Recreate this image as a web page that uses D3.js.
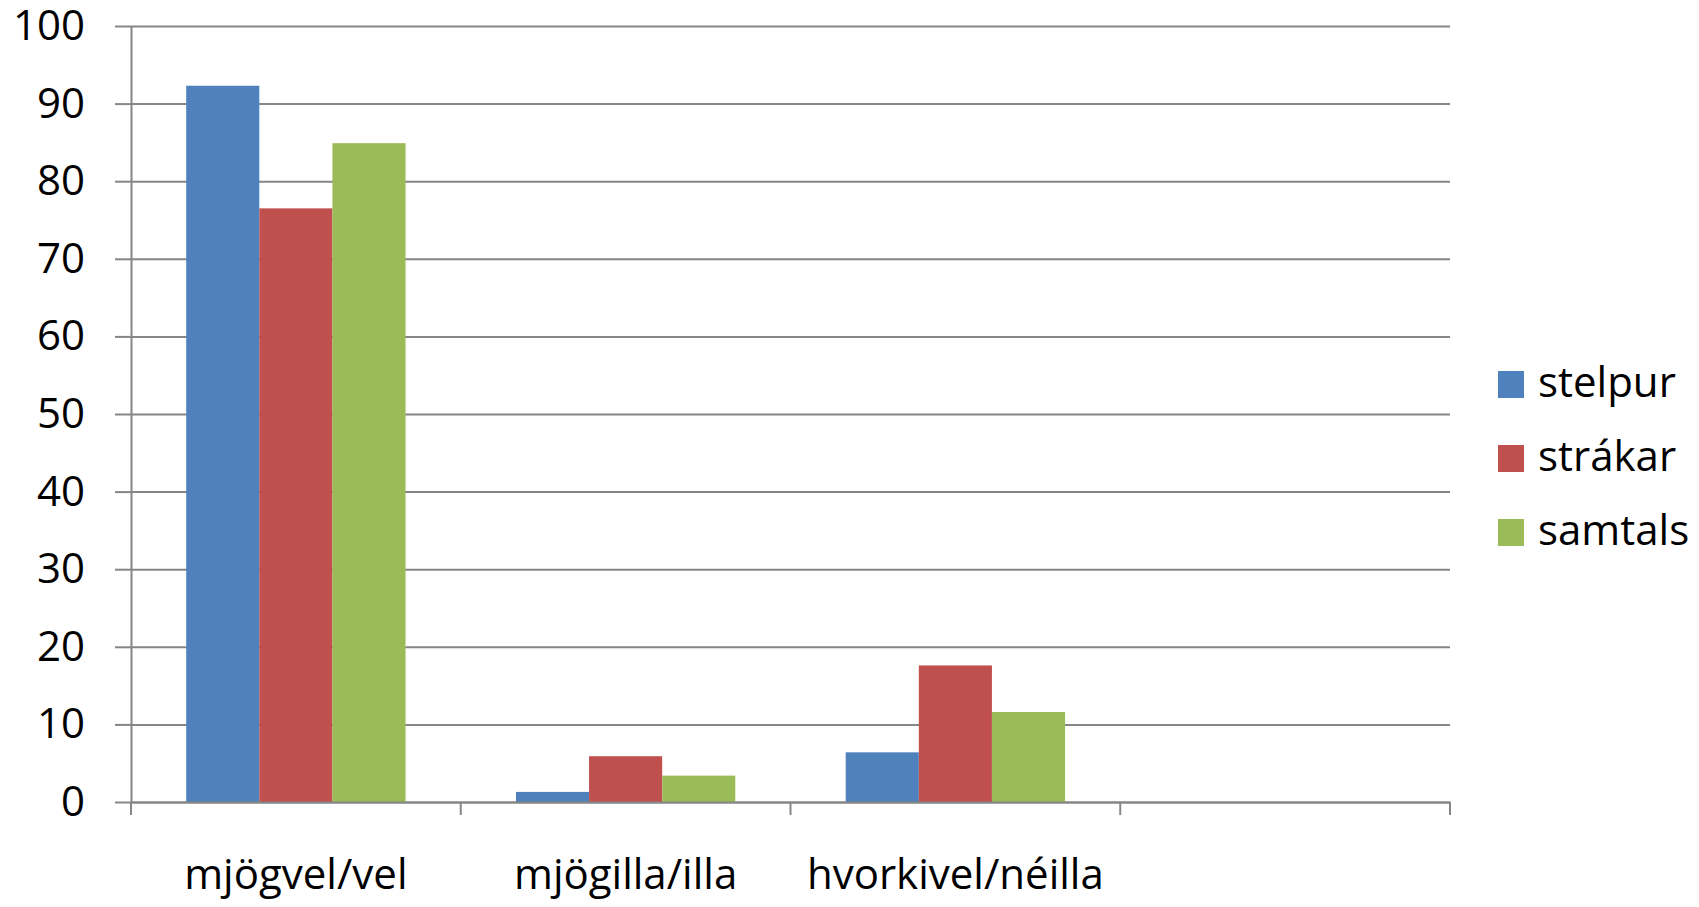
<!DOCTYPE html>
<html>
<head>
<meta charset="utf-8">
<script src="https://cdn.jsdelivr.net/npm/d3@7"></script>
<style>
  body { margin: 0; background: #fff; }
  svg text { font-family: "Open Sans", sans-serif; fill: #000; }
</style>
</head>
<body>
<div id="graphicContainer"></div>
<script>

var categories = ["mjögvel/vel", "mjögilla/illa", "hvorkivel/néilla", ""]
var seriesNames = ["stelpur", "strákar", "samtals"]
var stelpur = [92.3, 1.3, 6.4, null]
var strakar = [76.5, 5.9, 17.6, null]
var samtals = [84.9, 3.4, 11.6, null]
var yTicks = [0, 10, 20, 30, 40, 50, 60, 70, 80, 90, 100]
var colors = ["#4F81BD", "#C0504D", "#9BBB59"]

var seriesValues = [stelpur, strakar, samtals]

var width = 1699
var height = 907
var margin = { top: 26, right: 249, bottom: 105, left: 131 }

var svg = d3.select("#graphicContainer").append("svg")
  .attr("width", width)
  .attr("height", height)

var plotW = width - margin.left - margin.right
var plotH = height - margin.top - margin.bottom

var features = svg.append("g").attr("transform", "translate(" + margin.left + "," + margin.top + ")")

var x = d3.scaleBand().domain(categories).range([0, plotW]).paddingInner(0).paddingOuter(0)

var xSub = d3.scaleBand().domain(seriesNames).range([0, x.bandwidth()]).paddingInner(0).paddingOuter(0.755)

var y = d3.scaleLinear().domain([0, 100]).range([plotH, 0])

// gridlines
features.append("g").attr("class", "grid")
  .call(d3.axisLeft(y).tickValues(yTicks).tickSize(-plotW).tickFormat(""))
  .call(g => g.select(".domain").remove())
  .call(g => g.selectAll("line").attr("stroke", "#868686").attr("stroke-width", 2))

// bars
var rows = categories.map((c, i) => ({ cat: c, vals: seriesNames.map((s, j) => ({ key: s, value: seriesValues[j][i], color: colors[j] })) }))

var groups = features.selectAll(".group").data(rows).enter().append("g")
  .attr("class", "group")
  .attr("transform", d => "translate(" + x(d.cat) + ",0)")

groups.selectAll("rect").data(d => d.vals.filter(v => v.value != null)).enter().append("rect")
  .attr("x", d => xSub(d.key))
  .attr("y", d => y(d.value))
  .attr("width", xSub.bandwidth())
  .attr("height", d => y(0) - y(d.value))
  .attr("fill", d => d.color)

// y axis
var yAxis = features.append("g").attr("class", "y")
  .call(d3.axisLeft(y).tickValues(yTicks).tickSize(16).tickPadding(30).tickSizeOuter(0))

yAxis.select(".domain").attr("stroke", "#868686").attr("stroke-width", 2)
yAxis.selectAll(".tick line").attr("stroke", "#868686").attr("stroke-width", 2)
yAxis.selectAll("text").style("font-size", "42px")

// x axis
var xAxis = features.append("g").attr("class", "x")
  .attr("transform", "translate(0," + plotH + ")")
  .call(d3.axisBottom(x).tickSize(0).tickPadding(72).tickSizeOuter(0))

xAxis.select(".domain").attr("stroke", "#868686").attr("stroke-width", 2)
xAxis.selectAll("text").style("font-size", "42px").attr("dy", "0.35em")

var boundaries = categories.map(c => x(c)).concat([plotW])

xAxis.selectAll(".bound").data(boundaries).enter().append("line")
  .attr("class", "bound")
  .attr("x1", d => d).attr("x2", d => d)
  .attr("y1", 0).attr("y2", 13)
  .attr("stroke", "#868686").attr("stroke-width", 2)

// legend
var legend = svg.append("g").attr("transform", "translate(1498,371)")

var items = legend.selectAll(".item").data(seriesNames).enter().append("g")
  .attr("class", "item")
  .attr("transform", (d, i) => "translate(0," + i * 74 + ")")

items.append("rect").attr("width", 26).attr("height", 27).attr("fill", (d, i) => colors[i])

items.append("text").attr("x", 40).attr("y", 26).style("font-size", "42px").text(d => d)

</script>
</body>
</html>
